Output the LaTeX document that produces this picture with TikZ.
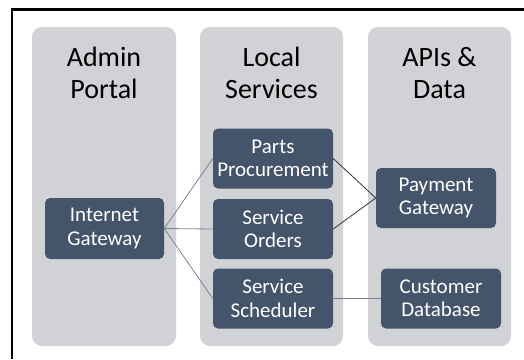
\documentclass[tikz,border=0pt]{standalone}
\usepackage{fontspec}
\setmainfont{Carlito}
\definecolor{colgray}{HTML}{D1D2D6}
\definecolor{slate}{HTML}{44546A}
\definecolor{wire}{HTML}{7A8290}
\begin{document}
\begin{tikzpicture}[x=1pt, y=-1pt]
        \tikzstyle{col} = [fill=colgray, rounded corners=10pt, minimum width=144pt, minimum height=319pt, inner sep=0pt]
        \tikzstyle{title} = [align=center, inner sep=0pt, font=\fontsize{28}{31.5}\selectfont]
        \tikzstyle{box} = [fill=slate, text=white, rounded corners=5pt, align=center, inner sep=0pt, minimum width=120pt, minimum height=60pt, font=\fontsize{21}{23.5}\selectfont]
        \tikzstyle{link} = [draw=wire, line width=0.8pt]

        \useasboundingbox (0,0) rectangle (524,359);
        \draw[line width=2.5pt] (12,359) -- (12,9.7) -- (524,9.7);

        % columns
        \node (admin) [col] at (104,186.5) {};
        \node (local) [col, minimum width=143pt] at (271.5,186.5) {};
        \node (apis) [col, minimum width=143pt] at (439.5,186.5) {};

        \node (admint) [title] at (admin.north |- 0,73) {Admin\\Portal};
        \node (localt) [title] at (local.north |- 0,73) {Local\\Services};
        \node (apist) [title] at (apis.north |- 0,73) {APIs \&\\Data};

        % boxes
        \node (gw) [box, minimum width=119pt, minimum height=61pt] at (104.5,228.5) {Internet\\Gateway};
        \node (parts) [box] at (273,158.5) {Parts\\Procurement};
        \node (orders) [box] at (273,229) {Service\\Orders};
        \node (sched) [box] at (273,298.5) {Service\\Scheduler};
        \node (pay) [box] at (436,198) {Payment\\Gateway};
        \node (cust) [box] at (441,298.5) {Customer\\Database};

        \draw[link] (gw.east) -- (parts.west);
        \draw[link] (gw.east) -- (orders.west);
        \draw[link] (gw.east) -- (sched.west);
        \draw[link, draw=black!80] (parts.east) -- (pay.west);
        \draw[link, draw=black!80] (orders.east) -- (pay.west);
        \draw[link] (sched.east) -- (cust.west);

    \end{tikzpicture}
\end{document}
